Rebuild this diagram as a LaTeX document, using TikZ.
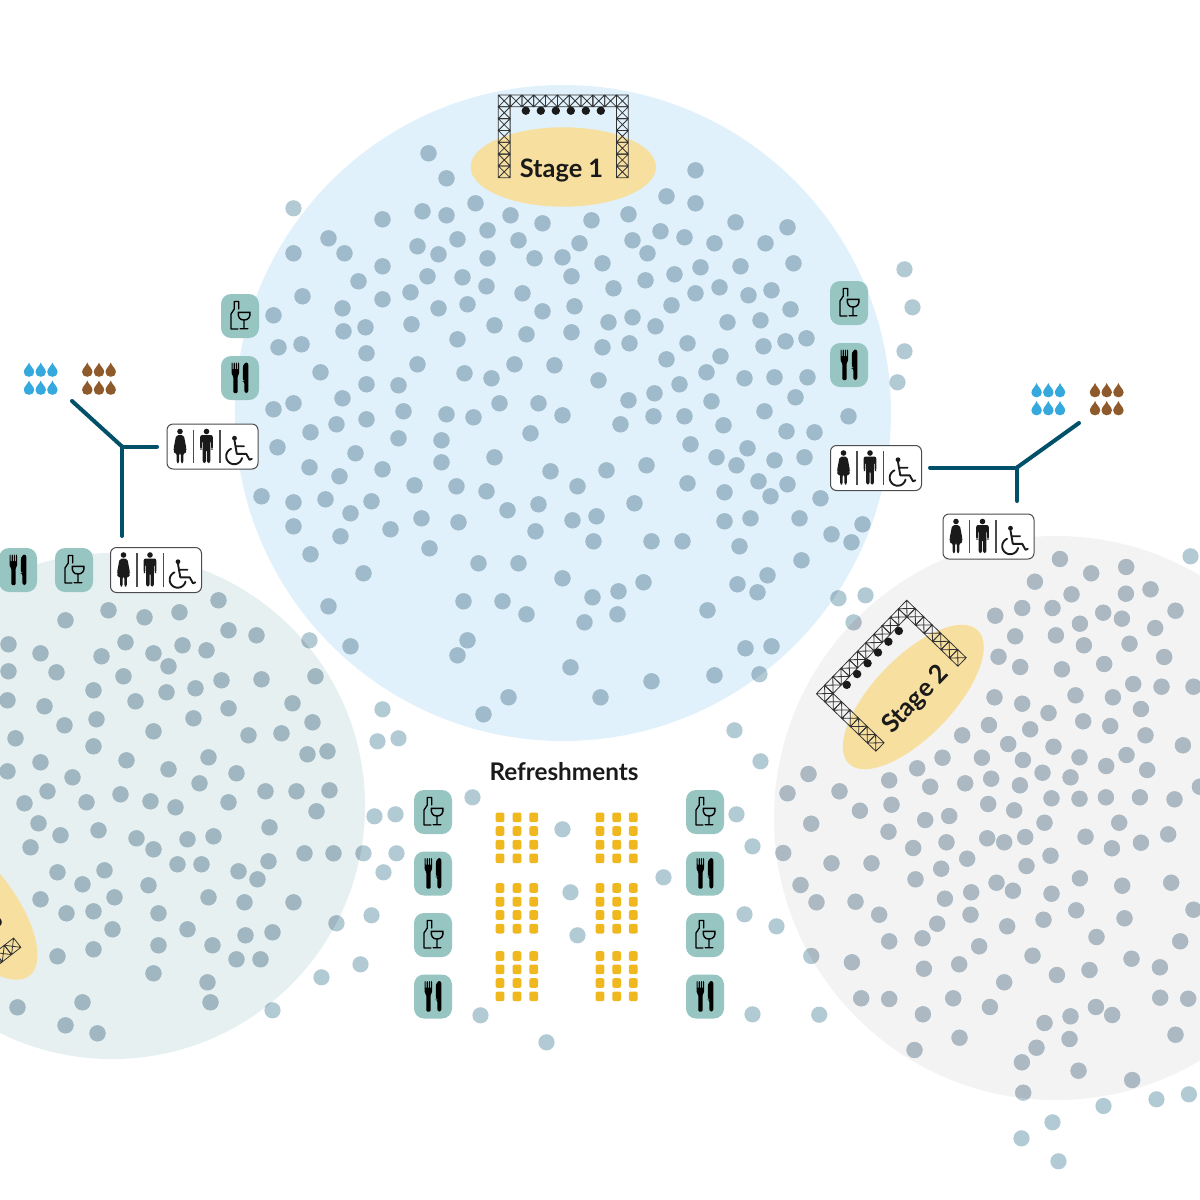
\documentclass[tikz,border=0pt]{standalone}
\usepackage{fontspec}
\setmainfont{Lato}
\definecolor{bluebg}{HTML}{E0F1FC}
\definecolor{greenbg}{HTML}{E6F0F1}
\definecolor{graybg}{HTML}{F3F3F3}
\definecolor{dotblue}{HTML}{9FBACA}
\definecolor{dotgreen}{HTML}{A0B6C0}
\definecolor{dotgray}{HTML}{ACB8C2}
\definecolor{dotwhite}{HTML}{B2CAD3}
\definecolor{stagey}{HTML}{F7DF9F}
\definecolor{tealbox}{HTML}{96C5C2}
\definecolor{wire}{HTML}{00506A}
\definecolor{seat}{HTML}{EFB81F}
\definecolor{dropb}{HTML}{35A8DD}
\definecolor{dropn}{HTML}{8E5A2B}
\definecolor{ink}{HTML}{1A1A1A}
\tikzset{
 tealsq/.style={fill=tealbox,rounded corners=5pt},
 wireline/.style={draw=wire,line width=2pt,line cap=round},
 signbox/.style={draw=black!70,line width=.5pt,fill=white,rounded corners=3pt,minimum width=45.5pt,minimum height=22.5pt,inner sep=0pt},
 stagetext/.style={font=\bfseries\fontsize{12.7}{13}\selectfont,text=ink,inner sep=0pt},
 drinkicon/.pic={
  \fill[tealsq] (-19,-22) rectangle (19,22);
  \draw[black,line width=.65pt,line join=round,line cap=round]
    (-2,13) -- (-9,13) -- (-9,-2) -- (-5.7,-7) -- (-5.7,-14.5) -- (-1.3,-14.5) -- (-1.3,-7);
  \draw[black,line width=.7pt,line join=round,line cap=round]
    (-1.7,-3.7) -- (10,-3.7) .. controls (10.5,1.5) and (8,4) .. (4,4) .. controls (0,4) and (-2.2,1.5) .. (-1.7,-3.7) -- cycle
    (4,4) -- (4,12.5) (0.2,12.7) -- (7.8,12.7);
 },
 foodicon/.pic={
  \fill[tealsq] (-19,-22) rectangle (19,22);
  \fill[black,rounded corners=.5pt]
    (-8.4,-15.5) -- (-7.3,-15.5) -- (-7.3,-8) -- (-6.3,-8) -- (-6.3,-15.5) -- (-5.2,-15.5) -- (-5.2,-8) -- (-4.2,-8) -- (-4.2,-15.5) -- (-3.1,-15.5) -- (-3.1,-8) -- (-2.1,-8) -- (-2.1,-15.5) -- (-1,-15.5) -- (-1,-4) -- (-2.5,-1.5) -- (-2.5,15) -- (-6.7,15) -- (-6.7,-1.5) -- (-8.4,-4) -- cycle;
  \fill[black,rounded corners=1.2pt]
    (2.8,-10) .. controls (3.5,-14) and (6,-15.5) .. (8.4,-15.5) -- (8.4,15) -- (4.3,15) -- (4.3,3) -- (2.8,3) -- cycle;
 },
 dropicon/.pic={
  \fill (0,-7.5) .. controls (1,-4) and (5.2,-1.5) .. (5.2,2) .. controls (5.2,5) and (3,6.8) .. (0,6.8) .. controls (-3,6.8) and (-5.2,5) .. (-5.2,2) .. controls (-5.2,-1.5) and (-1,-4) .. (0,-7.5) -- cycle;
 },
 dropgrid/.pic={
  \foreach \u in {-11.7,0,11.7}{\foreach \v in {-9,9}{\pic at (\u,\v) {dropicon};}}
 },
 personw/.pic={
  \fill (0,-15) circle[radius=2.8];
  \fill[rounded corners=1pt] (-3.8,-11.5) -- (3.8,-11.5) -- (6.6,3) -- (5,3.2) -- (3,-5) -- (6.8,6.5) -- (3.4,6.5) -- (3.4,16.5) -- (.8,16.5) -- (.8,6.5) -- (-.8,6.5) -- (-.8,16.5) -- (-3.4,16.5) -- (-3.4,6.5) -- (-6.8,6.5) -- (-3,-5) -- (-5,3.2) -- (-6.6,3) -- cycle;
 },
 personm/.pic={
  \fill (0,-15) circle[radius=2.8];
  \fill[rounded corners=1pt] (-6.3,-11.5) -- (6.3,-11.5) -- (6.3,3) -- (4.7,3) -- (4.5,-6) -- (3.8,-6) -- (3.8,16.5) -- (.5,16.5) -- (.5,3) -- (-.5,3) -- (-.5,16.5) -- (-3.8,16.5) -- (-3.8,-6) -- (-4.5,-6) -- (-4.7,3) -- (-6.3,3) -- cycle;
 },
 toiletsign/.pic={
  \pic[ink] at (-32.5,0) {personw};
  \pic[ink] at (-6,0) {personm};
  \draw[black!70,line width=.55pt] (-19,-17) -- (-19,16.5) (7.5,-17) -- (7.5,16.5);
  \fill[ink] (22,-8.3) circle[radius=2.4];
  \draw[ink,line width=.95pt,line join=round,line cap=round]
    (22,-6) -- (24.3,7.3) -- (33.7,7.3) -- (37,13.3) -- (39.3,12.3)
    (23.4,-.3) -- (31.5,-.3)
    plot[domain=247:13,samples=24] ({21.7+8*cos(\x)},{9.7+8*sin(\x)});
 },
 trussicon/.pic={
  \def\s{11.82}
  \begin{scope}[draw=black!80,line width=.4pt]
   \foreach \i in {0,...,10}{
    \draw ({-65+\i*\s},-72) rectangle ({-65+(\i+1)*\s},{-72+\s})
      ({-65+\i*\s},-72) -- ({-65+(\i+1)*\s},{-72+\s})
      ({-65+(\i+1)*\s},-72) -- ({-65+\i*\s},{-72+\s});}
   \foreach \j in {1,...,6}{
    \draw (-65,{-72+\j*\s}) rectangle ({-65+\s},{-72+(\j+1)*\s})
      (-65,{-72+\j*\s}) -- ({-65+\s},{-72+(\j+1)*\s})
      ({-65+\s},{-72+\j*\s}) -- (-65,{-72+(\j+1)*\s});
    \draw ({65-\s},{-72+\j*\s}) rectangle (65,{-72+(\j+1)*\s})
      ({65-\s},{-72+\j*\s}) -- (65,{-72+(\j+1)*\s})
      (65,{-72+\j*\s}) -- ({65-\s},{-72+(\j+1)*\s});}
  \end{scope}
  \foreach \u in {-37.5,-22.5,-7.5,7.5,22.5,37.5}{\fill[ink] (\u,-56.3) circle[radius=4.2];}
 },
}
\def\crowd{428/153,446/178,695/170,666/196,695/203,475/203,422/211,446/215,382/219,510/215,542/223,591/220,628/214,735/222,787/227,660/231,684/237,632/240,487/230,457/239,518/240,579/243,328/238,344/253,293/253,417/246,438/254,487/258,534/258,562/257,647/253,714/243,765/243,793/263,382/266,602/263,740/266,700/267,358/281,427/276,462/277,571/276,674/274,645/280,410/292,486/286,382/299,302/296,522/293,613/288,695/293,719/287,748/295,771/290,342/308,467/304,438/308,574/306,542/311,671/305,790/309,273/315,411/324,343/331,365/327,494/325,526/334,571/332,608/322,632/317,655/326,727/322,760/320,278/347,301/344,366/353,457/339,602/347,629/343,687/343,763/346,785/341,806/338,417/364,514/364,554/365,666/359,720/356,320/372,464/373,491/378,598/380,706/372,744/378,774/377,807/377,366/384,398/385,679/384,342/398,293/403,273/409,403/411,499/403,538/403,628/400,654/393,711/401,795/397,336/424,366/419,446/414,473/417,562/415,620/424,653/416,684/416,723/425,764/411,848/416,310/432,398/438,441/440,530/433,786/431,814/432,277/447,355/453,690/444,747/448,716/457,804/457,441/462,494/457,736/465,774/460,309/467,339/476,382/469,550/471,606/470,646/465,414/485,456/486,486/491,577/486,758/481,787/484,687/483,261/496,293/502,325/499,371/501,350/513,538/504,507/510,634/503,724/492,770/496,820/498,293/526,340/536,390/529,421/518,458/522,535/531,572/520,596/516,724/521,750/518,799/518,862/524,831/534,851/542,310/554,429/548,593/541,651/541,682/541,739/546,478/563,518/563,801/560,363/573,562/578,767/575,643/582,737/584,757/592,618/591,592/597,463/601,502/601,526/614,328/606,707/610,617/614,584/622,467/640,350/646,457/655,745/648,771/646,570/667,714/675,651/681,759/674,508/697,600/697,483/714,
218/600,108/610,144/617,179/612,65/620,228/630,256/635,309/640,125/642,182/645,206/650,153/653,40/653,8/644,101/656,168/666,8/671,56/672,123/676,221/680,261/679,315/676,93/690,166/692,195/688,135/701,7/700,44/706,228/708,292/703,96/719,193/718,64/725,312/722,153/731,15/738,248/735,281/733,93/746,307/754,327/751,208/757,126/760,40/762,7/771,168/769,236/773,72/777,199/783,47/791,265/791,296/791,329/790,120/794,150/801,86/802,228/802,24/803,175/807,316/811,38/823,269/827,98/830,60/835,136/838,213/836,187/839,30/847,153/849,304/853,333/853,177/864,201/864,268/861,57/872,104/870,238/871,257/879,82/884,148/885,114/897,40/899,208/897,244/902,293/902,93/911,66/913,158/913,112/929,187/929,245/935,272/932,158/945,212/945,93/949,57/956,153/973,236/959,260/959,207/982,82/1002,210/1002,17/1007,65/1025,97/1033,
293/208,904/269,912/307,904/351,897/382,382/709,377/741,398/738,734/730,760/761,472/797,736/814,374/816,395/814,562/829,752/846,363/853,396/853,383/872,663/877,570/892,744/914,776/926,371/915,336/923,577/935,360/964,321/977,272/1010,480/1015,752/1014,546/1042,1021/1138,1052/1122,1058/1161,1190/556,838/598,865/595,853/622}
\def\crowdgray{1059.7/559,1091/573.3,1126/567,1034.7/581.7,1071.3/594.3,1125.7/593.7,1150.3/589.3,1175.3/610.7,995/615.7,1022/608,1052.3/608,1103/612.7,1121.7/618.7,1079.7/623.7,1155/628,1015/636.3,1055.7/635.3,1083.7/645.3,1129.3/643.7,998.3/656.7,1020/667,1061.7/669.3,1104/664,1164/657,1133/684,1161.3/686.7,1193.3/686.7,994.3/697.3,1022/703.7,1048.3/713,1075.3/695.3,1112.7/697.3,1140.7/709,988.7/725,1030/729.3,1083/721.3,1110/726,1145.3/735.3,1182.7/745.3,962/735.3,1008/744,1053.3/746.7,981.7/757.7,942.3/757.7,1022.7/760,1079.3/757.3,1106/766,1126.3/755,1147/770,917/768.3,1042.3/772.7,1070.3/777.3,930/786.7,965/783.3,991/778.7,1019.7/785.3,1199.7/786.7,1051.3/798.3,1079.3/798.7,1105.7/797.3,1139.7/797.3,1174.3/799.3,988/804,1014/810.3,925/820,949/816,1044.3/822.7,1119/822.7,808.3/774,787.3/793.3,839.3/791.3,889/780.3,859.7/810.7,891.3/804.7,811/823.7,888.3/831.7,1085.3/836.7,1140.7/842.7,1168/834.3,1111.7/848.3,987/838.3,1004/842.3,1025/837,946.3/842.3,913/848,1050.3/855.7,967/858.7,1026.3/866,783/853,831.3/863.3,871.3/863.3,941/868.7,915.3/879.3,1079.7/878.3,1122/885.7,1171/882.7,996.3/882.7,1012.7/890.7,971/892.3,944.7/898.7,1051.3/893.7,800.3/885,816.3/902.3,855.3/901.7,879/914.7,1076/910.3,970.3/914.7,1193.3/909.7,1124.3/918.3,1043.3/919.7,1007/926.3,937/923.7,922.3/938.3,889/941.3,1096.3/937,1180/941.3,979/946.3,1032.3/955.7,1131.3/958.7,1159.7/967.3,959/964.3,923.7/968.7,851.7/962.3,811/956,1056.7/975,1089.3/970,1004/982.3,861/998.3,889/999,953/998.3,989.7/1007,1160/997.7,1188/998.7,1095.7/1007,1112/1015,922.7/1014.3,1070.3/1016.3,1044.3/1023,1069.3/1039,1036.3/1047.7,959.3/1037.7,1175.3/1034.7,914.3/1050,1021.7/1062.3,1078.3/1070.7,1132/1080,1023/1092.7,1103.3/1106,1156.3/1099.3,1188.7/1094.3,819/1014.7}
\newcommand{\crowddots}[1]{%
 \foreach \p/\q in \crowd{\fill[#1] ({\p+.5},{\q+.3}) circle[radius=8.1];}%
 \foreach \p/\q in \crowdgray{\fill[#1] ({\p+.2},\q) circle[radius=8.1];}}
\begin{document}
\begin{tikzpicture}[x=.5pt,y=-.5pt]
\useasboundingbox (0,0) rectangle (1200,1200);
\clip (0,0) rectangle (1200,1200);
\fill[white] (0,0) rectangle (1200,1200);
\fill[bluebg] (563,413) circle[radius=328];
\fill[greenbg] (112,806) circle[radius=253];
\fill[graybg] (1056,818) circle[radius=282];
% the crowd takes its tint from the ground it stands on
\crowddots{dotwhite}
\begin{scope}\clip (563,413) circle[radius=328]; \crowddots{dotblue}\end{scope}
\begin{scope}\clip (112,806) circle[radius=253]; \crowddots{dotgreen}\end{scope}
\begin{scope}\clip (1056,818) circle[radius=282]; \crowddots{dotgray}\end{scope}
% stages
\fill[stagey] (563.3,167) ellipse[x radius=92.7,y radius=39.7];
\fill[stagey,rotate around={46:(913.3,697)}] (913.3,697) ellipse[x radius=92.7,y radius=39.7];
\fill[stagey,rotate around={-52:(-27.6,902.7)}] (-27.6,902.7) ellipse[x radius=92.7,y radius=39.7];
\pic at (563.3,167) {trussicon};
\pic[rotate=46] at (913.3,697) {trussicon};
\pic[rotate=128] at (-27.6,902.7) {trussicon};
\node[stagetext] (stage1) at (561.5,170.5) {Stage 1};
\node[stagetext,rotate=46] (stage2) at (916,700) {Stage 2};
\node[stagetext,rotate=-52] (stage3) at (-30,899) {Stage 3};
% seats
\foreach \a in {500,517,533.7,600,616.7,633.3}{\foreach \b in {817.3,831,844.7,858.3,888,901.7,915,928.7,956,969.3,983,996.3}{
 \fill[seat,rounded corners=1pt] (\a-4.4,\b-4.8) rectangle (\a+4.4,\b+4.8);}}
\node[font=\bfseries\fontsize{12.15}{13}\selectfont,text=ink,inner sep=0pt] (refresh) at (564,772) {Refreshments};
% food and drink
\foreach \a/\b in {240/316,849/303,74/570,433/812,433/935,705/812,705/935}{\pic at (\a,\b) {drinkicon};}
\foreach \a/\b in {240/378,849/365,18/570,433/873.5,433/996.5,705/873.5,705/996.5}{\pic at (\a,\b) {foodicon};}
% toilets
\node[signbox] (signA) at (212.5,446.5) {};
\node[signbox] (signB) at (156,570) {};
\node[signbox] (signC) at (876,468) {};
\node[signbox] (signD) at (988.5,536.5) {};
\foreach \n in {signA,signB,signC,signD}{\pic at (\n.center) {toiletsign};}
% drops
\pic[dropb] at (40.7,379) {dropgrid};
\pic[dropn] at (99,379) {dropgrid};
\pic[dropb] at (1048.3,399.5) {dropgrid};
\pic[dropn] at (1106.7,399.5) {dropgrid};
% connectors
\coordinate (hubL) at (122,446.5);
\coordinate (endL1) at (72,401);
\coordinate (endL2) at (157,446.5);
\coordinate (endL3) at (122,536);
\draw[wireline] (hubL) -- (endL1);
\draw[wireline] (hubL) -- (endL2);
\draw[wireline] (hubL) -- (endL3);
\coordinate (hubR) at (1017,467.5);
\coordinate (endR1) at (930,467.5);
\coordinate (endR2) at (1079,423);
\coordinate (endR3) at (1017,501);
\draw[wireline] (hubR) -- (endR1);
\draw[wireline] (hubR) -- (endR2);
\draw[wireline] (hubR) -- (endR3);
\end{tikzpicture}
\end{document}
